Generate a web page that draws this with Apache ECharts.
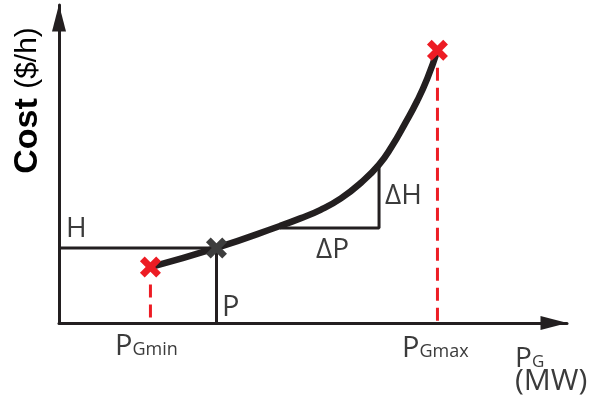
<!DOCTYPE html>
<html>
<head>
<meta charset="utf-8">
<script src="https://cdn.jsdelivr.net/npm/echarts@6/dist/echarts.min.js"></script>
<style>
  html, body { margin: 0; padding: 0; background: #fff; }
  #chart { width: 591px; height: 398px; }
</style>
</head>
<body>
<div id="chart"></div>
<script>
// cost curve (generation P vs cost), arbitrary units 0..100
var curveP = [18, 31, 43.5, 47.5, 51.5, 55.5, 59.5, 63, 65.5, 68, 70.5, 72.5, 74.5]
var curveCost = [17.6, 23.6, 30.5, 32.9, 35.6, 39.2, 44.2, 49.8, 55.5, 62.4, 69.8, 76.9, 85.8]

// operating point (H, P)
var opP = 31
var opCost = 23.6

// slope triangle corners
var triP = [43.5, 63]
var triCost = [29.9, 49.8]

// limits PGmin / PGmax
var limitP = [18, 74.5]
var limitCost = [17.6, 85.8]

var black = '#231f20'
var red = '#ed1c24'
var gray = '#3d3d3d'
var textColor = '#3b3b3b'
var crossPath = 'path://M0,4.5 L4.5,0 L10,5.5 L15.5,0 L20,4.5 L14.5,10 L20,15.5 L15.5,20 L10,14.5 L4.5,20 L0,15.5 L5.5,10 Z'
var markerGap = 5.5

var myChart = echarts.init(document.getElementById('chart'))

var curveData = []
for (var i = 0; i < curveP.length; i++) {
  curveData.push([curveP[i], curveCost[i]])
}

var dashSeries = limitP.map(function(p, i) {
  return {
    type: 'line',
    data: [[p, limitCost[i] - markerGap], [p, 0]],
    showSymbol: false,
    silent: true,
    lineStyle: { color: red, width: 3, type: [13, 7] },
    z: 1
  }
})

var axisLineStyle = {
  show: true,
  symbol: ['none', 'triangle'],
  symbolSize: [14, 27],
  symbolOffset: [0, -13],
  lineStyle: { color: black, width: 3 }
}

// text placed by its baseline
function label(x, baseline, text, size) {
  return {
    type: 'text',
    x: x,
    y: baseline - 0.3 * size,
    style: {
      text: text,
      fontFamily: 'Open Sans',
      fontSize: size,
      fill: textColor,
      align: 'left',
      verticalAlign: 'middle'
    }
  }
}

// P with a subscript on the same baseline
function subLabel(x, baseline, sub, size, subSize) {
  return [
    label(x, baseline, 'P', size),
    label(x + 0.603 * size, baseline, sub, subSize)
  ]
}

var graphics = [
  {
    type: 'text',
    x: 28,
    y: 136,
    rotation: Math.PI / 2,
    style: {
      text: 'Cost',
      fontFamily: 'Liberation Sans',
      fontWeight: 'bold',
      fontSize: 34,
      fill: '#000',
      align: 'center',
      verticalAlign: 'middle'
    }
  },
  {
    type: 'text',
    x: 28,
    y: 58,
    rotation: Math.PI / 2,
    style: {
      text: '($/h)',
      fontFamily: 'Liberation Sans',
      fontSize: 30,
      fill: '#000',
      align: 'center',
      verticalAlign: 'middle'
    }
  },
  label(66, 237, 'H', 28),
  label(222, 316, 'P', 29),
  label(316, 258, 'ΔP', 28),
  label(385, 204, 'ΔH', 28),
  label(515, 390, '(MW)', 30)
]
  .concat(subLabel(115, 355, 'Gmin', 29, 18))
  .concat(subLabel(402, 357, 'Gmax', 29, 18))
  .concat(subLabel(515, 367, 'G', 28, 17))

myChart.setOption({
  animation: false,
  backgroundColor: '#fff',
  grid: { left: 59, top: 5, right: 24, bottom: 75 },
  xAxis: {
    type: 'value',
    min: 0,
    max: 100,
    axisLine: axisLineStyle,
    axisTick: { show: false },
    axisLabel: { show: false },
    splitLine: { show: false }
  },
  yAxis: {
    type: 'value',
    min: 0,
    max: 100,
    axisLine: axisLineStyle,
    axisTick: { show: false },
    axisLabel: { show: false },
    splitLine: { show: false }
  },
  series: dashSeries.concat([
    {
      // H and P guide lines
      type: 'line',
      data: [[0, opCost], [opP, opCost], [opP, 0]],
      showSymbol: false,
      lineStyle: { color: black, width: 3 },
      z: 2
    },
    {
      // delta triangle
      type: 'line',
      data: [[triP[0], triCost[0]], [triP[1], triCost[0]], [triP[1], triCost[1]]],
      showSymbol: false,
      lineStyle: { color: black, width: 3 },
      z: 2
    },
    {
      type: 'line',
      data: curveData,
      smooth: 0.5,
      showSymbol: false,
      lineStyle: { color: black, width: 6.5, cap: 'butt' },
      z: 3
    },
    {
      type: 'scatter',
      data: [[limitP[0], limitCost[0]], [limitP[1], limitCost[1]]],
      symbol: crossPath,
      symbolSize: 21,
      itemStyle: { color: red, opacity: 1 },
      z: 5
    },
    {
      type: 'scatter',
      data: [[opP, opCost]],
      symbol: crossPath,
      symbolSize: 21,
      itemStyle: { color: gray, opacity: 1 },
      z: 5
    }
  ]),
  graphic: graphics
})
</script>
</body>
</html>
